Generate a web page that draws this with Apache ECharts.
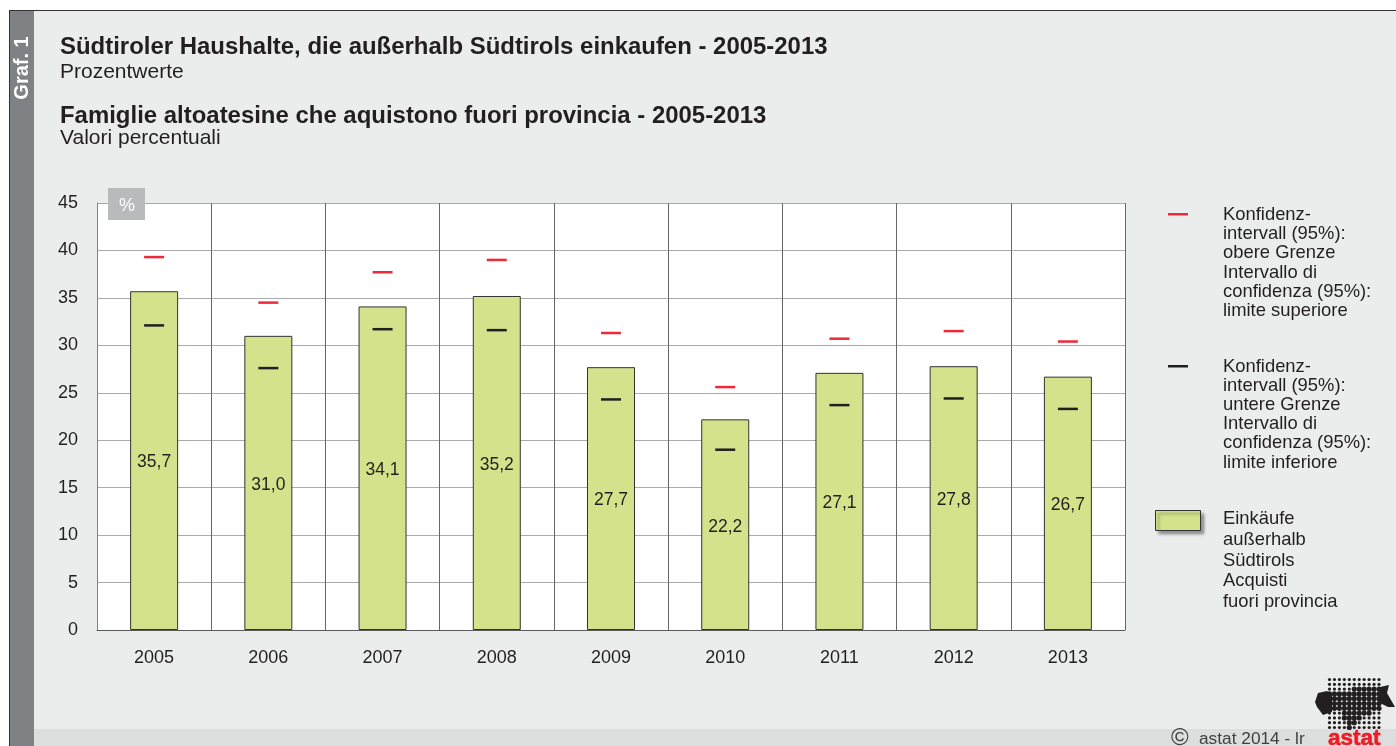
<!DOCTYPE html>
<html>
<head>
<meta charset="utf-8">
<title>Graf. 1</title>
<script src="https://cdn.jsdelivr.net/npm/echarts@6/dist/echarts.min.js"></script>
<style>
	html, body { margin: 0; padding: 0; background: #fff; }
	#main { width: 1396px; height: 746px; }
</style>
</head>
<body>
<div id="main"></div>
<script>
	// 数据
	const years = ["2005", "2006", "2007", "2008", "2009", "2010", "2011", "2012", "2013"];
	const purchases = [35.7, 31.0, 34.1, 35.2, 27.7, 22.2, 27.1, 27.8, 26.7];
	const upperLimit = [39.3, 34.5, 37.7, 39.0, 31.3, 25.6, 30.7, 31.5, 30.4];
	const lowerLimit = [32.1, 27.6, 31.7, 31.6, 24.3, 19.0, 23.7, 24.4, 23.3];
	const legendUpper = ["Konfidenz-", "intervall (95%):", "obere Grenze", "Intervallo di", "confidenza (95%):", "limite superiore"];
	const legendLower = ["Konfidenz-", "intervall (95%):", "untere Grenze", "Intervallo di", "confidenza (95%):", "limite inferiore"];
	const legendBars = ["Einkäufe", "außerhalb", "Südtirols", "Acquisti", "fuori provincia"];

	const font = "'Liberation Sans', Arial, sans-serif";
	const ink = "#231f20";

	function txt(x, y, text, size, extra) {
		return {
			type: "text", x: x, y: y, silent: true, z: 20,
			style: Object.assign({ text: text, font: size + "px " + font, fill: ink, verticalAlign: "middle" }, extra || {})
		};
	}
	function rect(x, y, w, h, fill, extra) {
		return Object.assign({ type: "rect", silent: true, shape: { x: x, y: y, width: w, height: h }, style: { fill: fill } }, extra || {});
	}

	// 面板、侧条、页脚
	let shapes = [
		rect(9, 10, 1387, 736, "#ebedec", { z: -10 }),
		rect(9, 10, 1387, 1, "#333333", { z: -9 }),
		rect(9, 10, 1, 736, "#333333", { z: -9 }),
		rect(10, 11, 24, 735, "#808184", { z: -9 }),
		rect(34, 729, 1362, 17, "#dcdedd", { z: -9 }),
		{
			type: "text", x: 22, y: 68, rotation: Math.PI / 2, silent: true, z: 20,
			style: { text: "Graf. 1", font: "bold 20px " + font, fill: "#fff", align: "center", verticalAlign: "middle" }
		},
		txt(60, 47, "Südtiroler Haushalte, die außerhalb Südtirols einkaufen - 2005-2013", 23.95, { font: "bold 23.95px " + font }),
		txt(60, 72, "Prozentwerte", 21),
		txt(60, 116, "Famiglie altoatesine che aquistono fuori provincia - 2005-2013", 23.95, { font: "bold 23.95px " + font }),
		txt(60, 138, "Valori percentuali", 21),
		rect(108, 188, 37, 32, "#b9babc", { z: 15 }),
		txt(127, 206, "%", 18, { fill: "#fff", align: "center" }),
		txt(1171, 738, "©", 24, { fill: "#414042" }),
		txt(1199, 739, "astat 2014 - lr", 17.3, { fill: "#414042" }),
		txt(1328, 739, "astat", 22.5, { font: "bold 22.5px " + font, fill: "#ed1c24", stroke: "#ed1c24", lineWidth: 0.6 })
	];

	// 图例
	function legendBlock(lines, y0, step) {
		lines.forEach(function(l, i) {
			shapes.push(txt(1223, y0 + i * step, l, 18.4));
		});
	}
	shapes.push(rect(1168, 213, 20, 2.5, "#ee2a3a"));
	legendBlock(legendUpper, 215, 19.2);
	shapes.push(rect(1168, 365, 20, 2.5, ink));
	legendBlock(legendLower, 367, 19.1);
	shapes.push(rect(1155.5, 510.5, 45, 20, "#d3e28b", {
		style: { fill: "#d3e28b", stroke: "#333", lineWidth: 1, shadowColor: "rgba(0,0,0,0.4)", shadowBlur: 3, shadowOffsetX: 3, shadowOffsetY: 3 }
	}));
	legendBlock(legendBars, 519, 20.8);

	// astat 标志
	const logoRows = [null, null, [5, 10], [0, 10], [0, 10], [0, 10], [0, 10], [3, 8], [3, 6], [4, 5], [4, 4]];
	for (let i = 0; i < 11; i++) {
		for (let j = 0; j < 11; j++) {
			let row = logoRows[j];
			let big = row && i >= row[0] && i <= row[1];
			shapes.push({
				type: "circle", silent: true, z: 5,
				shape: { cx: 1329.5 + i * 4.95, cy: 679.5 + j * 4.8, r: big ? 2.6 : 1.6 },
				style: { fill: ink }
			});
		}
	}
	shapes.push({
		type: "polygon", silent: true, z: 5,
		shape: { points: [[1315, 702], [1318, 693], [1327, 691], [1332, 695], [1332, 712], [1323, 715], [1317, 707]] },
		style: { fill: ink }
	});
	shapes.push({
		type: "polygon", silent: true, z: 5,
		shape: { points: [[1380, 687], [1389, 685], [1387, 693], [1395, 707], [1388, 707], [1380, 703]] },
		style: { fill: ink }
	});

	let myChart = echarts.init(document.getElementById("main"), null, { renderer: "canvas" });
	let option = {
		animation: false,
		backgroundColor: "transparent",
		textStyle: { fontFamily: font },
		graphic: { elements: shapes },
		grid: { left: 97, top: 203, width: 1028, height: 427, backgroundColor: "#fff", show: true, borderWidth: 0 },
		xAxis: {
			type: "category",
			data: years,
			axisTick: { show: false },
			axisLine: { show: true, lineStyle: { color: "#58595b", width: 1 } },
			axisLabel: { color: ink, fontSize: 18, margin: 19, fontFamily: font },
			splitLine: { show: true, interval: 0, lineStyle: { color: "#666666", width: 1 } }
		},
		yAxis: {
			type: "value",
			min: 0,
			max: 45,
			interval: 5,
			axisTick: { show: false },
			axisLine: { show: true, lineStyle: { color: "#808080", width: 1 } },
			axisLabel: { color: ink, fontSize: 18, margin: 19, padding: [2, 0, 0, 0], fontFamily: font },
			splitLine: { show: true, lineStyle: { color: "#aaaaaa", width: 1 } }
		},
		series: [{
				name: "Einkäufe außerhalb Südtirols",
				type: "bar",
				barWidth: 48,
				data: purchases,
				itemStyle: { color: "#d3e28b", borderColor: "#333", borderWidth: 1 },
				label: {
					show: true,
					position: "inside",
					offset: [0, 2],
					color: ink,
					fontSize: 17.5,
					fontFamily: font,
					formatter: function(p) {
						return p.value.toFixed(1).replace(".", ",");
					}
				}
			},
			{
				name: "obere Grenze",
				type: "scatter",
				symbol: "rect",
				symbolSize: [20, 2.5],
				data: upperLimit,
				itemStyle: { color: "#ee2a3a", opacity: 1 },
				z: 5
			},
			{
				name: "untere Grenze",
				type: "scatter",
				symbol: "rect",
				symbolSize: [20, 2.5],
				data: lowerLimit,
				itemStyle: { color: ink, opacity: 1 },
				z: 5
			}
		]
	};
	myChart.setOption(option);
</script>
</body>
</html>
